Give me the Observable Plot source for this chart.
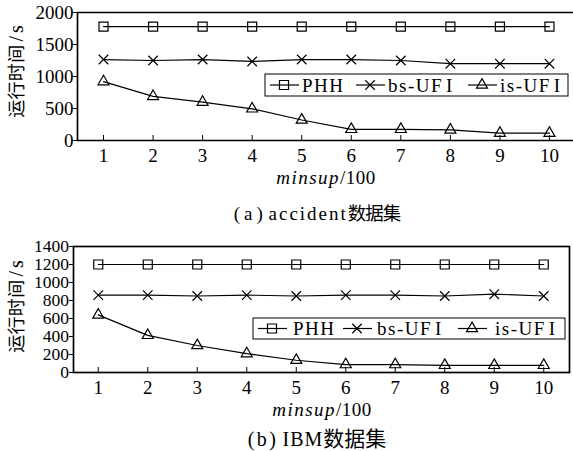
<!DOCTYPE html>
<html><head><meta charset="utf-8">
<script src="https://cdn.jsdelivr.net/npm/d3@7"></script>
<script src="https://cdn.jsdelivr.net/npm/@observablehq/plot@0.6"></script>
<style>
body{margin:0;background:#fff;width:573px;height:451px;overflow:hidden;position:relative;font-family:"Liberation Serif","Times New Roman","DejaVu Serif",serif,"Noto Sans CJK SC";}
.panel{position:absolute;left:0;}
.cap{position:absolute;left:0;width:634px;text-align:center;line-height:22px;color:#000;white-space:nowrap;}
.c{font-family:"Noto Sans CJK SC";}
</style></head><body>
<div id="a" class="panel" style="top:0"></div>
<div id="capA" class="cap" style="top:201px;font-size:19px"></div>
<div id="b" class="panel" style="top:225px"></div>
<div id="capB" class="cap" style="top:426px;font-size:20px"></div>
<script>
const minsup = [1, 2, 3, 4, 5, 6, 7, 8, 9, 10];
const seriesNames = ["PHH", "bs-UFI", "is-UFI"];
const accidentPHH = [1780, 1780, 1780, 1780, 1780, 1780, 1780, 1780, 1780, 1780];
const accidentBsUFI = [1265, 1250, 1265, 1235, 1265, 1265, 1250, 1200, 1200, 1200];
const accidentIsUFI = [920, 690, 600, 495, 320, 175, 175, 165, 115, 115];
const ibmPHH = [1200, 1200, 1200, 1200, 1200, 1200, 1200, 1200, 1200, 1200];
const ibmBsUFI = [860, 860, 850, 860, 850, 860, 860, 850, 870, 850];
const ibmIsUFI = [640, 413, 300, 210, 136, 88, 88, 80, 80, 80];
const accidentTicks = [0, 500, 1000, 1500, 2000];
const ibmTicks = [0, 200, 400, 600, 800, 1000, 1200, 1400];
const yLabelCJK = "运行时间";
const yLabelUnit = "/s";
const captionA = ["(a)", "accident", "数据集"];
const captionB = ["(b)", "IBM", "数据集"];

function setCaption(id, parts, st) {
  const el = d3.select("#" + id);
  el.append("span").style("letter-spacing", st.p + "px").text(parts[0]);
  el.append("span").style("letter-spacing", st.w + "px").style("word-spacing", st.ws + "px").text(" " + parts[1]);
  el.append("span").attr("class", "c").style("font-size", st.cs + "px").style("letter-spacing", st.cl + "px").text(parts[2]);
}
setCaption("capA", captionA, {p: 4, w: 2, ws: -5, cs: 18.5, cl: -1});
setCaption("capB", captionB, {p: 2.5, w: 1, ws: -2, cs: 21, cl: 0});

const FONT = '"Liberation Serif","Times New Roman","DejaVu Serif",serif,"Noto Sans CJK SC"';
const symbols = {"PHH": {s: d3.symbolSquare, ps: "square", r: 5.1},
                 "bs-UFI": {s: d3.symbolTimes, ps: "times", r: 4.4},
                 "is-UFI": {s: d3.symbolTriangle, ps: "triangle", r: 4.1}};

function toRows(vals) {
  const rows = [];
  seriesNames.forEach((name, i) => vals[i].forEach((v, j) => rows.push({series: name, x: minsup[j], y: v})));
  return rows;
}

function makeChart(el, cfg) {
  const rows = toRows(cfg.values);
  const marks = [];
  if (cfg.fullFrame) marks.push(Plot.frame({stroke: "black", strokeWidth: 1.7}));
  else {
    marks.push(Plot.ruleY([cfg.yDomain[0], cfg.yDomain[1]], {stroke: "black", strokeWidth: 1.7}));
    marks.push(Plot.ruleX([cfg.xDomain[0]], {stroke: "black", strokeWidth: 1.7}));
  }
  marks.push(Plot.axisY({ticks: cfg.yTicks, tickSize: 4, tickPadding: cfg.yPad, tickFormat: d => String(d), label: null, fontSize: cfg.yFont}));
  marks.push(Plot.axisX({ticks: minsup, tickSize: -5, tickPadding: 12.5, tickFormat: d => String(d), label: null, fontSize: 19}));
  for (const name of seriesNames) {
    const data = rows.filter(d => d.series === name);
    marks.push(Plot.line(data, {x: "x", y: "y", stroke: "black", strokeWidth: 1.2}));
    marks.push(Plot.dot(data, {x: "x", y: "y", symbol: () => symbols[name].ps, r: symbols[name].r, stroke: "black", fill: "none", strokeWidth: 1.2}));
  }
  const svg = Plot.plot({
    width: 573, height: cfg.height,
    marginTop: cfg.mt, marginBottom: cfg.mb, marginLeft: cfg.ml, marginRight: cfg.mr,
    x: {domain: cfg.xDomain},
    y: {domain: cfg.yDomain},
    style: {fontFamily: FONT, fontSize: "19px", color: "black", background: "white"},
    marks
  });
  const s = d3.select(svg);
  const yl = s.append("text").attr("transform", `translate(${cfg.ylx},${cfg.yly}) rotate(-90)`)
    .attr("text-anchor", "middle").attr("fill", "black");
  yl.append("tspan").attr("font-family", '"Noto Sans CJK SC"').attr("font-size", 18).attr("letter-spacing", 0.3).text(yLabelCJK);
  yl.append("tspan").attr("font-size", 20).attr("dx", 3).attr("letter-spacing", 3).text(yLabelUnit);
  const xl = s.append("text").attr("x", cfg.xlx).attr("y", cfg.xly).attr("text-anchor", "middle").attr("font-size", 19).attr("fill", "black");
  xl.append("tspan").attr("font-style", "italic").attr("letter-spacing", 1.5).text("minsup");
  xl.append("tspan").attr("letter-spacing", 0.5).text("/100");
  const L = cfg.legend;
  const g = s.append("g").attr("text-anchor", "start");
  g.append("rect").attr("x", L.x).attr("y", L.y).attr("width", L.w).attr("height", L.h).attr("fill", "white").attr("stroke", "black").attr("stroke-width", 1);
  const cy = L.y + L.h / 2;
  seriesNames.forEach((name, i) => {
    const it = L.items[i];
    g.append("line").attr("x1", it.sx - 14).attr("x2", it.sx + 15).attr("y1", cy).attr("y2", cy).attr("stroke", "black").attr("stroke-width", 1.2);
    g.append("path").attr("d", d3.symbol(symbols[name].s, Math.PI * symbols[name].r ** 2)()).attr("transform", `translate(${it.sx},${cy})`)
      .attr("fill", "none").attr("stroke", "black").attr("stroke-width", 1.2);
    const t = g.append("text").attr("x", it.tx).attr("y", cy).attr("dy", "0.35em").attr("font-size", 19).attr("fill", "black").attr("letter-spacing", 1.5);
    if (name.endsWith("I")) {
      t.append("tspan").text(name.slice(0, -1));
      t.append("tspan").attr("dx", 3).text("I");
    } else t.text(name);
  });
  document.getElementById(el).appendChild(svg);
}

makeChart("a", {
  values: [accidentPHH, accidentBsUFI, accidentIsUFI],
  yDomain: [0, 2000], yTicks: accidentTicks, xDomain: [0.475, 10.485],
  height: 198, mt: 12, mb: 58, ml: 77, mr: 0, yPad: 0, yFont: 19, fullFrame: false,
  ylx: 23, yly: 70, xlx: 326, xly: 184,
  legend: {x: 265, y: 74, w: 303, h: 22, items: [{sx: 284, tx: 302}, {sx: 370, tx: 388}, {sx: 482, tx: 500}]}
});
makeChart("b", {
  values: [ibmPHH, ibmBsUFI, ibmIsUFI],
  yDomain: [0, 1400], yTicks: ibmTicks, xDomain: [0.5, 10.52],
  height: 200, mt: 21, mb: 53, ml: 73, mr: 4, yPad: 0.5, yFont: 17.5, fullFrame: true,
  ylx: 23, yly: 80, xlx: 322, xly: 191,
  legend: {x: 253, y: 93, w: 312, h: 21, items: [{sx: 272, tx: 293}, {sx: 357, tx: 377}, {sx: 472, tx: 495}]}
});
</script>
</body></html>
